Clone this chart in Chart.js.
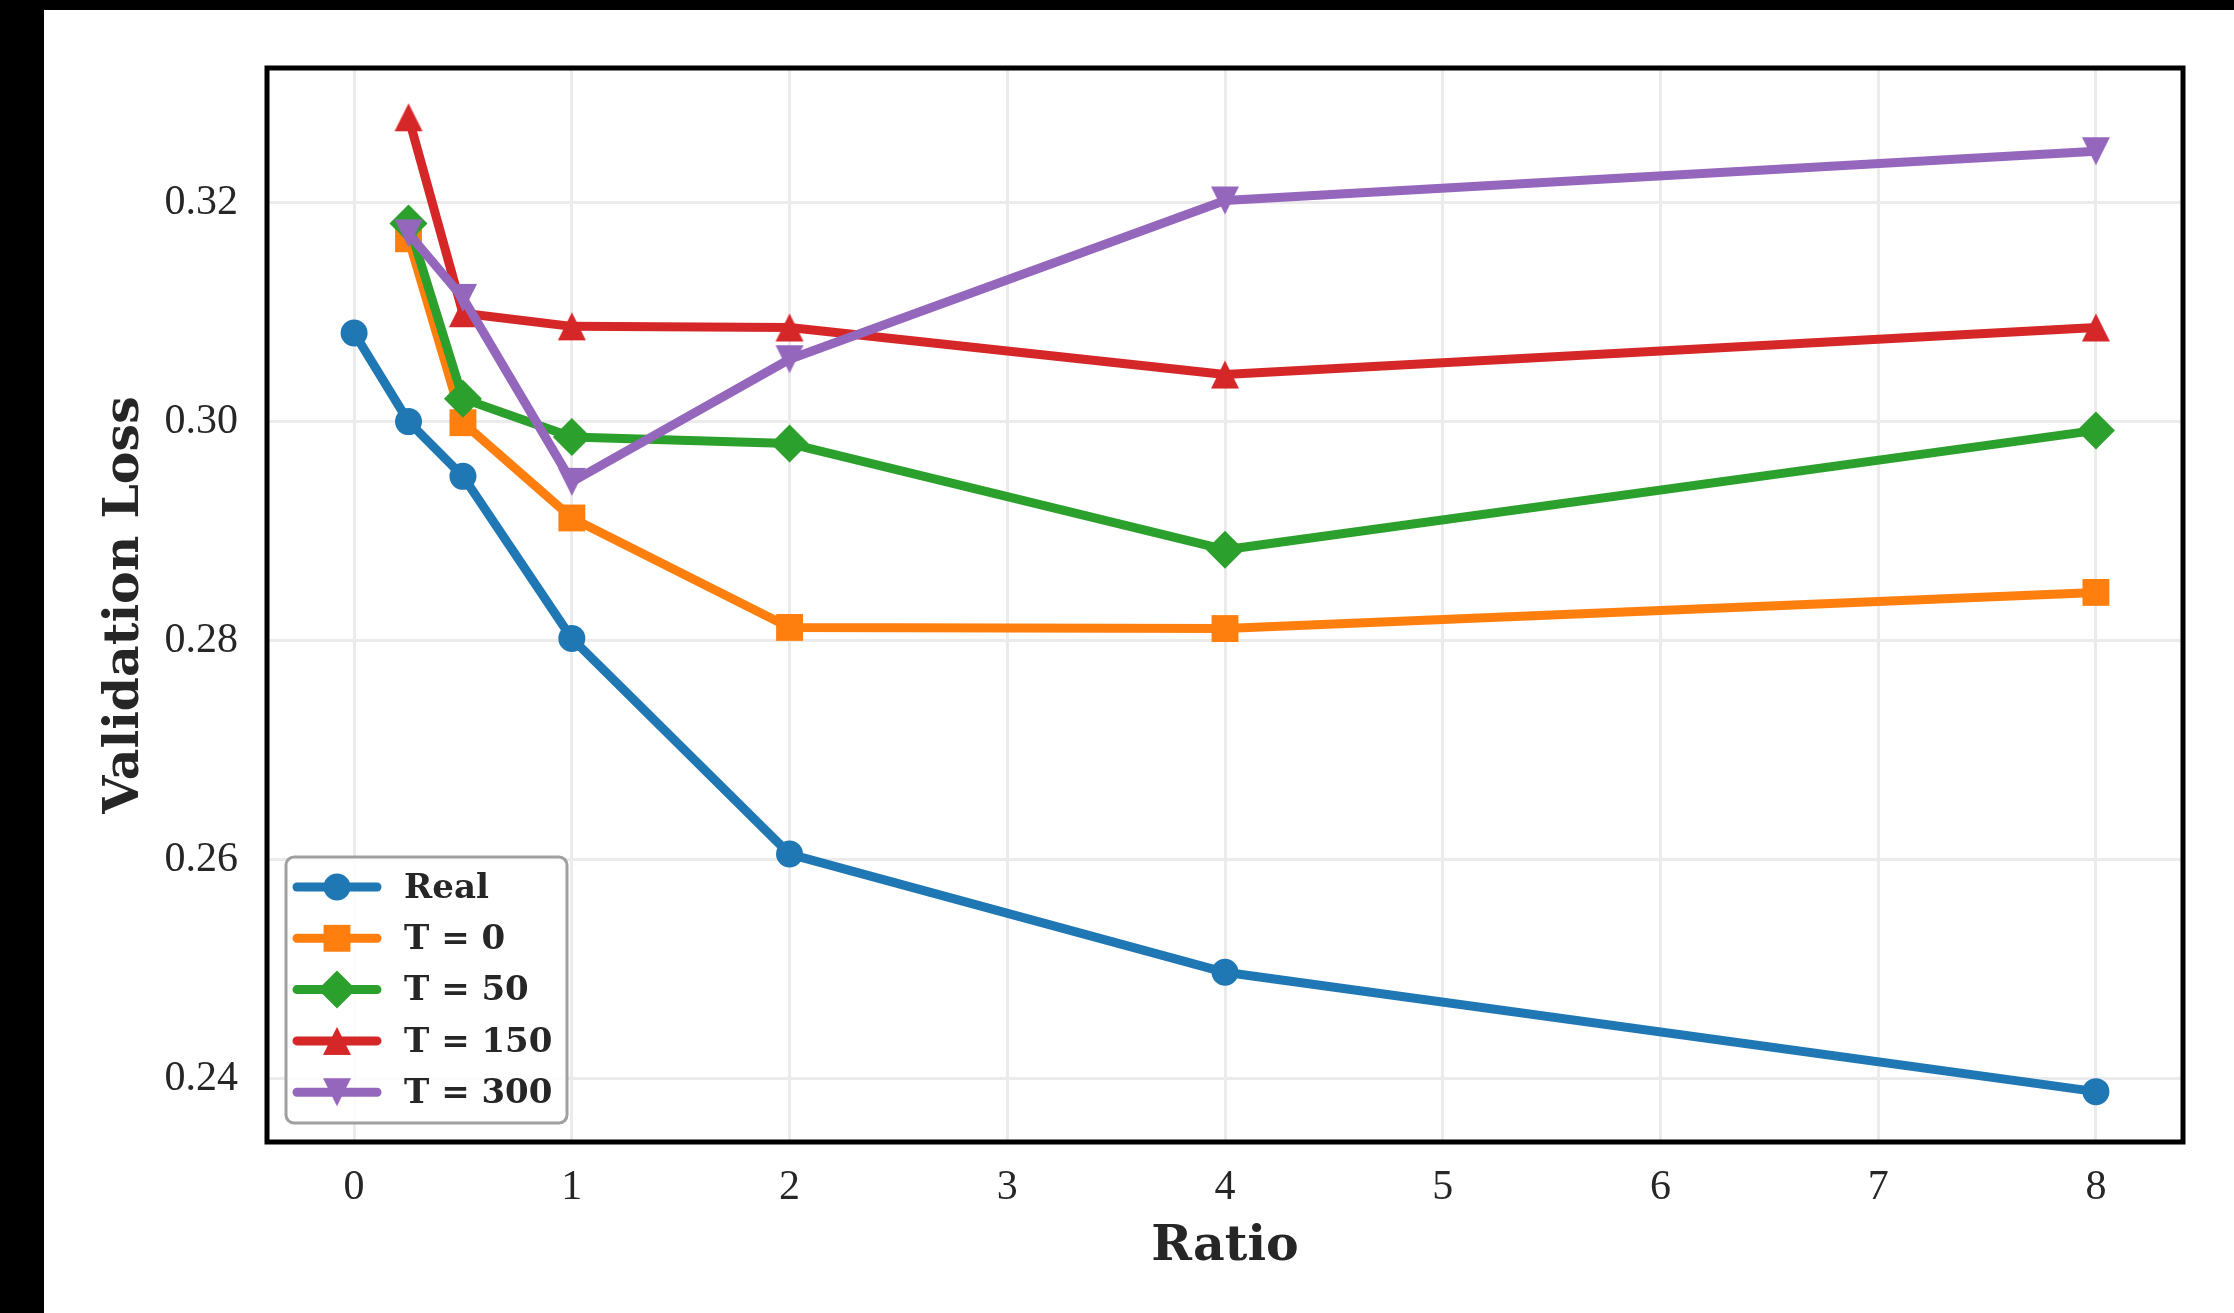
<!DOCTYPE html>
<html>
<head>
<meta charset="utf-8">
<title>Validation Loss vs Ratio</title>
<script src="https://cdn.jsdelivr.net/npm/chart.js@4.4.1/dist/chart.umd.min.js"></script>
<style>
  html, body { margin: 0; padding: 0; background: #000; }
  canvas { display: block; }
</style>
</head>
<body>
<canvas id="lossChart" width="2234" height="1313"></canvas>
<script>
// values
const ratios = [0, 0.25, 0.5, 1, 2, 4, 8];
const realLoss = [0.3081, 0.3000, 0.2950, 0.2802, 0.2605, 0.2497, 0.2388];
const t0Loss   = [null, 0.3167, 0.2999, 0.2912, 0.2812, 0.2811, 0.2844];
const t50Loss  = [null, 0.3181, 0.3021, 0.2986, 0.2980, 0.2883, 0.2992];
const t150Loss = [null, 0.3278, 0.3099, 0.3087, 0.3086, 0.3043, 0.3086];
const t300Loss = [null, 0.3172, 0.3113, 0.2945, 0.3057, 0.3202, 0.3247];

const seriesLabels = ['Real', 'T = 0', 'T = 50', 'T = 150', 'T = 300'];
const xTicks = [0, 1, 2, 3, 4, 5, 6, 7, 8];
const yTicks = [0.24, 0.26, 0.28, 0.30, 0.32];

const textColor = '#262626';
const gridColor = '#ebebeb';

// matplotlib style triangles (^ and v), drawn once into small canvases
function triangleMarker(color, down) {
    const c = document.createElement('canvas');
    c.width = 30;
    c.height = 30;
    const g = c.getContext('2d');
    g.fillStyle = color;
    g.beginPath();
    if (down) {
        g.moveTo(1, 1); g.lineTo(29, 1); g.lineTo(15, 29);
    } else {
        g.moveTo(15, 1); g.lineTo(29, 29); g.lineTo(1, 29);
    }
    g.closePath();
    g.fill();
    return c;
}

function toPoints(values) {
    return ratios.map((r, i) => ({ x: r, y: values[i] })).filter(p => p.y !== null);
}

function makeDataset(label, values, color, pointStyle, radius, order) {
    return {
        label: label,
        data: toPoints(values),
        borderColor: color,
        backgroundColor: color,
        borderWidth: 9,
        borderJoinStyle: 'round',
        tension: 0,
        pointStyle: pointStyle,
        pointRadius: radius,
        pointHoverRadius: radius,
        pointBackgroundColor: color,
        pointBorderWidth: 0,
        order: order // later series drawn on top, like matplotlib
    };
}

function drawMarker(ctx, style, radius, color, x, y) {
    ctx.fillStyle = color;
    if (typeof style === 'object') {
        ctx.drawImage(style, x - style.width / 2, y - style.height / 2);
        return;
    }
    ctx.beginPath();
    if (style === 'circle') {
        ctx.arc(x, y, radius, 0, Math.PI * 2);
    } else if (style === 'rect') {
        const h = radius * Math.SQRT1_2;
        ctx.rect(x - h, y - h, 2 * h, 2 * h);
    } else if (style === 'rectRot') {
        ctx.moveTo(x - radius, y);
        ctx.lineTo(x, y - radius);
        ctx.lineTo(x + radius, y);
        ctx.lineTo(x, y + radius);
        ctx.closePath();
    }
    ctx.fill();
}

// black strip top/left like the screenshot, white page behind the plot
const pageBackground = {
    id: 'pageBackground',
    beforeDraw(chart) {
        const ctx = chart.ctx;
        ctx.save();
        ctx.fillStyle = '#000';
        ctx.fillRect(0, 0, chart.width, chart.height);
        ctx.fillStyle = '#fff';
        ctx.fillRect(44, 10, chart.width - 44, chart.height - 10);
        ctx.restore();
    }
};

// full box around the axes, on top of the lines
const axesFrame = {
    id: 'axesFrame',
    afterDatasetsDraw(chart) {
        const { ctx, chartArea } = chart;
        ctx.save();
        ctx.strokeStyle = '#000';
        ctx.lineWidth = 5;
        ctx.strokeRect(chartArea.left, chartArea.top, chartArea.right - chartArea.left, chartArea.bottom - chartArea.top);
        ctx.restore();
    }
};

// legend box in the lower left, line + marker handles
const lineLegend = {
    id: 'lineLegend',
    afterDraw(chart) {
        const ctx = chart.ctx;
        const boxX = 286, boxY = 857, boxW = 281, boxH = 266;
        ctx.save();
        ctx.beginPath();
        ctx.roundRect(boxX, boxY, boxW, boxH, 8);
        ctx.fillStyle = 'rgba(255,255,255,0.85)';
        ctx.fill();
        ctx.lineWidth = 3;
        ctx.strokeStyle = '#a0a0a0';
        ctx.stroke();

        chart.data.datasets.forEach((ds, i) => {
            const y = 887 + i * 51.3;
            ctx.beginPath();
            ctx.moveTo(297, y);
            ctx.lineTo(377, y);
            ctx.strokeStyle = ds.borderColor;
            ctx.lineWidth = 9;
            ctx.lineCap = 'round';
            ctx.stroke();
            drawMarker(ctx, ds.pointStyle, ds.pointRadius, ds.borderColor, 337, y);

            ctx.fillStyle = textColor;
            ctx.font = 'bold 34px "DejaVu Serif"';
            ctx.textAlign = 'left';
            ctx.textBaseline = 'middle';
            ctx.fillText(ds.label, 404, y + 2);
        });
        ctx.restore();
    }
};

const ctx = document.getElementById('lossChart').getContext('2d');

new Chart(ctx, {
    type: 'line',
    data: {
        datasets: [
            makeDataset(seriesLabels[0], realLoss, '#1f77b4', 'circle', 13.5, 5),
            makeDataset(seriesLabels[1], t0Loss, '#ff7f0e', 'rect', 19, 4),
            makeDataset(seriesLabels[2], t50Loss, '#2ca02c', 'rectRot', 19, 3),
            makeDataset(seriesLabels[3], t150Loss, '#d62728', triangleMarker('#d62728', false), 14, 2),
            makeDataset(seriesLabels[4], t300Loss, '#9467bd', triangleMarker('#9467bd', true), 14, 1)
        ]
    },
    options: {
        responsive: false,
        devicePixelRatio: 1,
        animation: false,
        layout: {
            padding: { top: 68, right: 51, bottom: 0, left: 0 }
        },
        plugins: {
            legend: { display: false },
            tooltip: { enabled: false }
        },
        scales: {
            x: {
                type: 'linear',
                min: -0.4,
                max: 8.4,
                afterBuildTicks: function (scale) {
                    scale.ticks = xTicks.map(v => ({ value: v }));
                },
                afterFit: function (scale) {
                    scale.height = 171;
                },
                grid: { color: gridColor, lineWidth: 3, drawTicks: false },
                border: { display: false },
                ticks: {
                    color: textColor,
                    padding: 21,
                    font: { family: '"Liberation Serif"', size: 42 },
                    callback: v => String(v)
                },
                title: {
                    display: true,
                    text: 'Ratio',
                    color: textColor,
                    font: { family: '"DejaVu Serif"', size: 49, weight: 'bold' },
                    padding: { top: 0, bottom: 36 }
                }
            },
            y: {
                type: 'linear',
                min: 0.2342,
                max: 0.3323,
                afterBuildTicks: function (scale) {
                    scale.ticks = yTicks.map(v => ({ value: v }));
                },
                afterFit: function (scale) {
                    scale.width = 267;
                },
                grid: { color: gridColor, lineWidth: 3, drawTicks: false },
                border: { display: false },
                ticks: {
                    color: textColor,
                    padding: 29,
                    font: { family: '"Liberation Serif"', size: 42 },
                    callback: v => v.toFixed(2)
                },
                title: {
                    display: true,
                    text: 'Validation Loss',
                    color: textColor,
                    font: { family: '"DejaVu Serif"', size: 49, weight: 'bold' },
                    padding: { top: 96, bottom: 0 }
                }
            }
        }
    },
    plugins: [pageBackground, axesFrame, lineLegend]
});
</script>
</body>
</html>
